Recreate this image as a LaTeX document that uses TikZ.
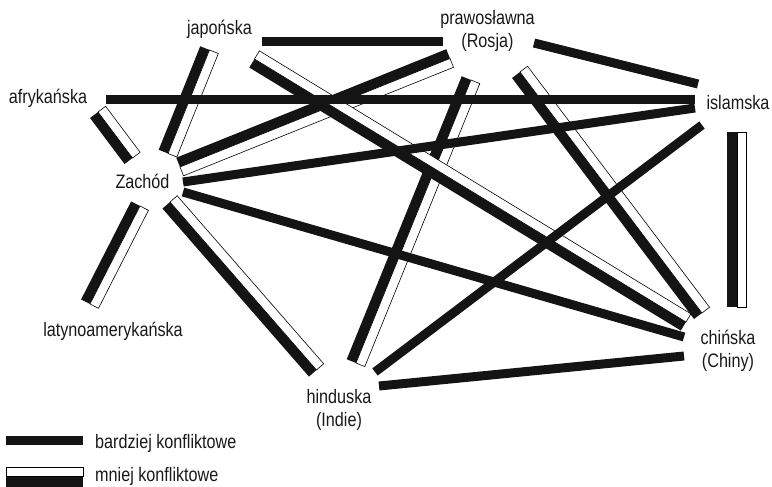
\documentclass[tikz,border=0pt]{standalone}
\usepackage{fontspec}
\setmainfont{Liberation Sans}[FakeStretch=0.83]
\usetikzlibrary{calc}

\tikzset{
  hard/.style={line width=9pt, draw=black!92},
  txt/.style={font=\fontsize{19.5}{23}\selectfont, inner sep=0pt, text=black!90},
}

% Two-tone bar: black half on the left of (#1)->(#2), outlined white half on the right
\newcommand\mildbar[2]{%
  \fill[black!92] ($(#1)!10pt!90:(#2)$) -- (#1) -- (#2) -- ($(#2)!10pt!-90:(#1)$) -- cycle;
  \filldraw[fill=white, draw=black, line width=0.6pt]
    ($(#1)!9.5pt!-90:(#2)$) -- (#1) -- (#2) -- ($(#2)!9.5pt!90:(#1)$) -- cycle;
}

\begin{document}
\begin{tikzpicture}[x=1pt, y=-1pt]
\useasboundingbox (0,0) rectangle (772,487);

% ---- civilisation labels ----
\node[txt, anchor=base] (jap) at (219.5,35) {japońska};
\node[txt, align=center] (pra) at (487.5,31) {prawosławna\\(Rosja)};
\node[txt, anchor=base] (afr) at (48,103) {afrykańska};
\node[txt, anchor=base] (isl) at (738,110) {islamska};
\node[txt, anchor=base] (zach) at (142.5,188.5) {Zachód};
\node[txt, anchor=base] (lat) at (113,336) {latynoamerykańska};
\node[txt, align=center] (hin) at (339,409.5) {hinduska\\(Indie)};
\node[txt, align=center] (chi) at (728,350.5) {chińska\\(Chiny)};

% ---- bar end points ----
% two-tone bars
\coordinate (zj-a) at (168,153.5);   \coordinate (zj-b) at (209.5,50);
\coordinate (za-a) at (132.5,158);   \coordinate (za-b) at (98,112);
\coordinate (zp-a) at (180,167);     \coordinate (zp-b) at (450,58.5);
\coordinate (zl-a) at (90,304);      \coordinate (zl-b) at (140,206);
\coordinate (zh-a) at (316.5,370);   \coordinate (zh-b) at (170,202);
\coordinate (jc-a) at (686,322);     \coordinate (jc-b) at (254.5,59);
\coordinate (ph-a) at (356,363);     \coordinate (ph-b) at (471,80);
\coordinate (pc-a) at (702,313);     \coordinate (pc-b) at (520,72);
\coordinate (ic-a) at (737,307);     \coordinate (ic-b) at (737,132);
% black bars
\coordinate (jp-a) at (262,42);      \coordinate (jp-b) at (443,42);
\coordinate (ai-a) at (106,100);     \coordinate (ai-b) at (695,100);
\coordinate (pi-a) at (534,43);      \coordinate (pi-b) at (698,84);
\coordinate (zi-a) at (183,182);     \coordinate (zi-b) at (695,108);
\coordinate (zc-a) at (183,192);     \coordinate (zc-b) at (684,337);
\coordinate (ih-a) at (702,125);     \coordinate (ih-b) at (375,372);
\coordinate (hc-a) at (379,386);     \coordinate (hc-b) at (684,356);

% ---- less conflictive relations ----
\mildbar{zh-a}{zh-b}
\mildbar{zl-a}{zl-b}
\mildbar{za-a}{za-b}
\mildbar{zj-a}{zj-b}
\mildbar{zp-a}{zp-b}
\mildbar{ph-a}{ph-b}
\mildbar{pc-a}{pc-b}
\mildbar{ic-a}{ic-b}
\mildbar{jc-a}{jc-b}

% ---- more conflictive relations ----
\draw[hard] (jp-a) -- (jp-b);
\draw[hard] (ai-a) -- (ai-b);
\draw[hard] (pi-a) -- (pi-b);
\draw[hard] (zi-a) -- (zi-b);
\draw[hard] (zc-a) -- (zc-b);
\draw[hard] (ih-a) -- (ih-b);
\draw[hard] (hc-a) -- (hc-b);

% ---- legend ----
\coordinate (lg1-a) at (6,440);      \coordinate (lg1-b) at (83,440);
\coordinate (lg2-a) at (83,476.5);   \coordinate (lg2-b) at (6,476.5);
\draw[hard] (lg1-a) -- (lg1-b);
\mildbar{lg2-a}{lg2-b}
\node[txt, anchor=base west] (lg1) at (95,448) {bardziej konfliktowe};
\node[txt, anchor=base west] (lg2) at (95,481.5) {mniej konfliktowe};
\end{tikzpicture}
\end{document}
